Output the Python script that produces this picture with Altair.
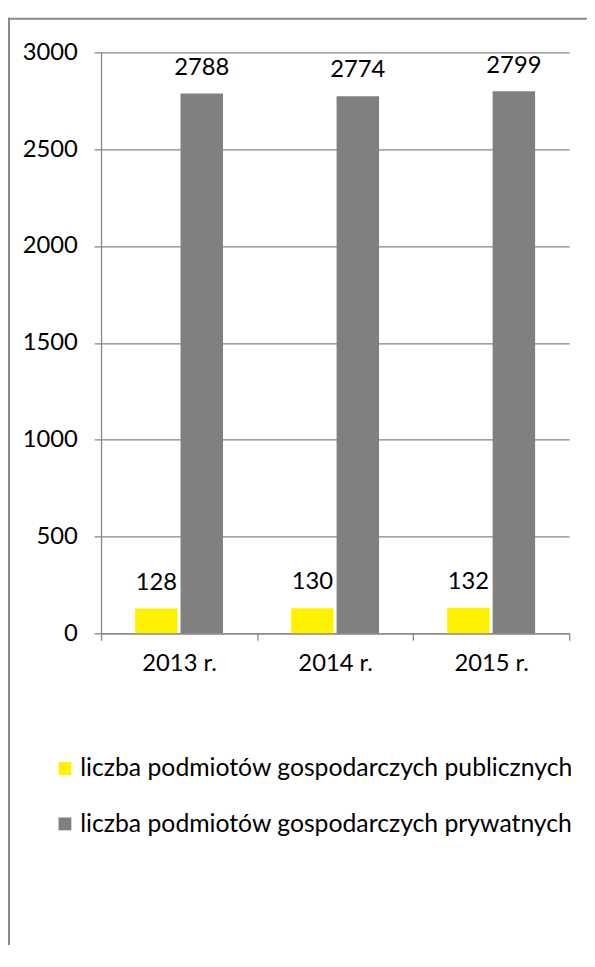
import altair as alt
import pandas as pd

years = ["2013 r.", "2014 r.", "2015 r."]
series = ["liczba podmiotów gospodarczych publicznych",
          "liczba podmiotów gospodarczych prywatnych"]
public_vals = [128, 130, 132]
private_vals = [2788, 2774, 2799]
colors = ["#FFF200", "#808080"]

rows = []
for i, y in enumerate(years):
    rows.append({"year": y, "series": series[0], "value": public_vals[i]})
    rows.append({"year": y, "series": series[1], "value": private_vals[i]})
df = pd.DataFrame(rows)

FONT = "Lato"
GRID = "#868686"

x = alt.X("year:N", sort=years, title=None,
          scale=alt.Scale(paddingInner=0, paddingOuter=0),
          axis=alt.Axis(labelAngle=0, tickBand="extent", domainColor=GRID,
                        domainWidth=1.3, tickColor=GRID, tickWidth=1.3,
                        tickSize=7, labelFont=FONT, labelFontSize=24,
                        labelColor="#000", labelPadding=12, grid=False))
xo = alt.XOffset("series:N", sort=series,
                 scale=alt.Scale(paddingInner=0.065, paddingOuter=0.75))
y = alt.Y("value:Q", title=None,
          scale=alt.Scale(domain=[0, 3000], nice=False),
          axis=alt.Axis(values=[0, 500, 1000, 1500, 2000, 2500, 3000],
                        grid=True, gridColor=GRID, gridWidth=1.3,
                        domainColor=GRID, domainWidth=1.3, tickColor=GRID,
                        tickWidth=1.3, tickSize=7, labelFont=FONT,
                        labelFontSize=24, labelColor="#000", labelPadding=17,
                        format="d"))
color = alt.Color("series:N", sort=series,
                  scale=alt.Scale(domain=series, range=colors),
                  legend=alt.Legend(title=None, orient="none", legendX=-49,
                                    legendY=711, padding=0, symbolType="square",
                                    symbolSize=169, symbolStrokeWidth=0,
                                    labelFont=FONT, labelFontSize=25,
                                    labelColor="#000", labelOffset=3,
                                    rowPadding=30, labelLimit=600))

base = alt.Chart(df)
bars = base.mark_bar().encode(x=x, xOffset=xo, y=y, color=color)
labels = base.mark_text(dy=-19, baseline="alphabetic", font=FONT,
                        fontSize=24, color="#000").encode(
    x=alt.X("year:N", sort=years), xOffset=alt.XOffset("series:N", sort=series),
    y="value:Q", text="value:Q")

one = alt.Chart(pd.DataFrame({"a": [0]}))
frame_top = one.mark_rule(color="#8a8a8a", strokeWidth=2).encode(
    x=alt.value(-94), x2=alt.value(500), y=alt.value(-34))
frame_left = one.mark_rule(color="#8a8a8a", strokeWidth=2).encode(
    x=alt.value(-93), y=alt.value(-35), y2=alt.value(920))

chart = alt.layer(frame_top, frame_left, bars, labels).properties(
    width=473, height=587,
    autosize=alt.AutoSizeParams(type="none"),
    padding={"left": 94, "top": 40, "right": 18, "bottom": 310},
).configure_view(stroke=None)

chart.save("out.html", embed_options={"renderer": "svg", "actions": False})
